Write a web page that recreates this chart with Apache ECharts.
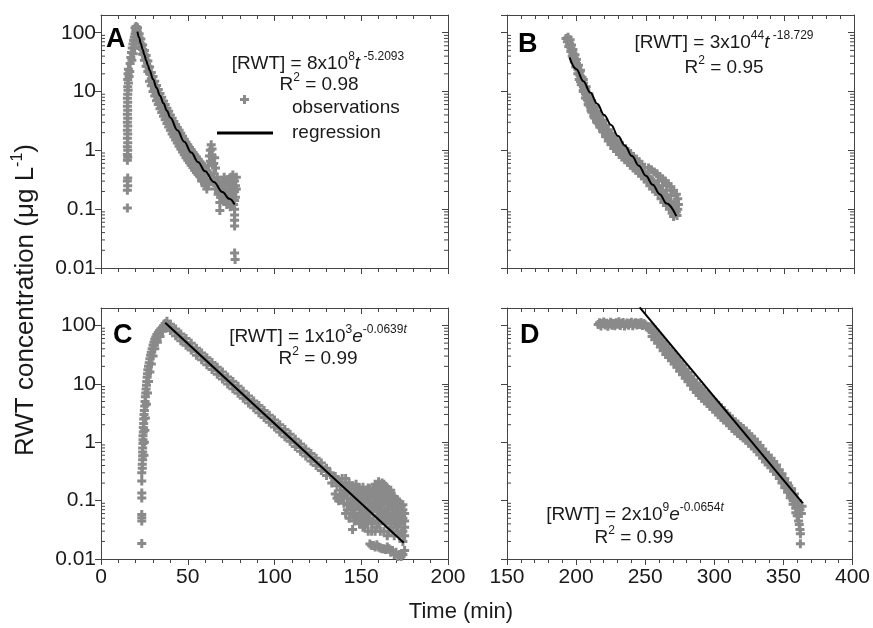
<!DOCTYPE html>
<html><head><meta charset="utf-8">
<script src="https://cdn.jsdelivr.net/npm/echarts@6/dist/echarts.min.js"></script>
<style>html,body{margin:0;padding:0;background:#fff}#c{width:873px;height:628px}</style>
</head><body><div id="c"></div>
<script>
// ---- tick labels ----
const yTickValues = [0.01, 0.1, 1, 10, 100];
const yTickLabels = ['0.01', '0.1', '1', '10', '100'];
const yMinorTicks = [0.02,0.03,0.04,0.05,0.06,0.07,0.08,0.09, 0.2,0.3,0.4,0.5,0.6,0.7,0.8,0.9,
  2,3,4,5,6,7,8,9, 20,30,40,50,60,70,80,90];
const xTicksLeft = [0, 50, 100, 150, 200];
const xTicksRight = [150, 200, 250, 300, 350, 400];

// ---- Panel A observations [time (min), RWT (ug/L)] ----
const obsA = [
[15.2,0.105],[15.2,0.21],[15.4,0.25],[15.2,0.3],[15.4,0.34],[15.2,0.68],[15.4,0.76],[15.2,0.85],[15.4,1.0],[15.2,1.15],
[15.4,1.35],[15.2,1.6],[15.4,1.9],[15.2,2.2],[15.4,2.6],[15.2,3.0],[15.4,3.5],[15.2,4.1],[15.4,4.8],[15.2,5.6],
[15.4,6.6],[15.2,7.7],[15.4,9],[15.6,10.5],[15.4,12],[15.8,14],[15.4,16],[16.2,18],[15.6,20],[16.6,22],[15.8,24],
[16.8,30],[17.2,38],[17.6,46],[18,55],[18.4,64],[18.8,74],[19.2,84],[19.6,94],[20,104],[20.4,114],[20.8,122],
[17.8,34],[18.6,44],[19.4,56],[20,68],[20.6,80],[21.2,92],[19.6,120],[20.2,128],
[21,120],[21,104],[21,88],[22,96],[22,82],[22,68],[23,78],[23,65],[23,54],[24,62],[24,52],[24,43],
[25,50],[25,42],[25,34],[26,41],[26,34],[26,27],[27,33],[27,27],[27,22],[28,26],[28,20],[28,15],
[29,21],[29,16.5],[29,12.5],[30,18],[30,13.5],[30,10],[31,15],[31,11.2],[31,8.4],[32,12.7],[32,9.4],[32,7],
[33,10.8],[33,8],[33,6],[34,9.3],[34,6.8],[34,5.1],[35,8],[35,5.9],[35,4.4],[36,6.9],[36,5.1],[36,3.8],
[37,6],[37,4.4],[37,3.3],[38,5.2],[38,3.8],[38,2.85],[39,4.6],[39,3.3],[39,2.5],[40,4],[40,2.9],[40,2.2],
[41,3.5],[41,2.55],[41,1.9],[42,3.1],[42,2.25],[42,1.7],[43,2.75],[43,2],[43,1.5],[44,2.45],[44,1.78],[44,1.33],
[45,2.2],[45,1.58],[45,1.18],[46,1.95],[46,1.4],[46,1.05],[47,1.73],[47,1.25],[47,0.94],[48,1.55],[48,1.12],[48,0.84],
[49,1.38],[49,1.0],[49,0.75],[50,1.24],[50,0.9],[50,0.68],[51,1.12],[51,0.82],[51,0.62],[52,1.02],[52,0.74],[52,0.56],
[53,0.92],[53,0.67],[53,0.51],[54,0.84],[54,0.61],[54,0.46],[55,0.77],[55,0.56],[55,0.42],[56,0.7],[56,0.51],[56,0.39],
[57,0.64],[57,0.47],[57,0.36],[58,0.59],[58,0.43],[58,0.33],[59,0.54],[59,0.4],[59,0.3],[60,0.5],[60,0.37],[60,0.28],
[61,0.45],[62,0.55],[62.5,0.8],[63,1.0],[63.5,1.25],[64,1.05],[64,0.8],[63,0.65],[65,0.6],[65.5,0.75],[66,0.5],
[61,0.3],[62,0.26],[63,0.38],[64,0.32],[65,0.28],[65,0.4],[66,0.22],[67,0.35],[67,0.26],[67.5,0.18],[68,0.3],[68,0.2],
[68.5,0.13],[68.5,0.095],[69,0.25],[69,0.16],[70,0.3],[70,0.2],[70.5,0.14],[71,0.35],[71,0.22],[71.5,0.15],[72,0.28],
[72,0.18],[72.5,0.12],[73,0.32],[73,0.21],[73.5,0.14],[74,0.26],[74,0.17],[74.5,0.11],[75,0.35],[75,0.22],[75.5,0.15],
[76,0.38],[76,0.27],[76,0.18],[76.5,0.12],[77,0.3],[77,0.2],[77,0.14],[77,0.1],[77,0.08],[77,0.065],[77,0.052],
[77.5,0.25],[77.5,0.16],[78,0.35],[78,0.22],[77,0.018],[77.3,0.014],[58,0.3],[59,0.35],[60,0.25],[61,0.22]
];

// ---- Panel B observations ----
const obsB = [
[192.5,80],[194,84],[195.5,76],[193.5,70],[195,66],[196.5,62],[194.5,58],[196,55],[197.5,52],[196,48],[197.5,45],[199,42],
[197,40],[198.5,37],[200,35],[198.5,32],[200,30],[201.5,28],[199.5,26],[201,24],[202.5,22],[201,20],[202.5,19],[204,17.5],
[202,16],[203.5,15],[205,14],[203.5,13],[205,12],[206.5,11],[205,10],[206.5,9.2],[208,8.5],[206.5,7.8],[208,7.2],[209.5,6.6],
[208.5,6],[210,5.5],[211.5,5.1],[210.5,4.8],[212,4.4],[213.5,4.1],[212.5,3.8],[214,3.5],[215.5,3.3],[214.5,3.1],[216,2.9],
[217.5,2.7],[217,2.5],[218.5,2.35],[220,2.2],[219.5,2.05],[221,1.9],[222.5,1.8],[222,1.68],[223.5,1.58],[225,1.48],[225,1.38],
[226.5,1.3],[228,1.22],[228,1.14],[229.5,1.07],[231,1.0],[231,0.95],[232.5,0.9],[234,0.85],[234.5,0.8],[236,0.76],[237.5,0.72],
[238,0.68],[239.5,0.64],[241,0.6],[241.5,0.57],[243,0.54],[244.5,0.51],[245,0.48],[246.5,0.45],[248,0.43],[248.5,0.4],[250,0.38],
[251.5,0.36],[252,0.34],[253.5,0.32],[255,0.3],[255.5,0.28],[257,0.26],[258.5,0.25],[259,0.23],[260.5,0.21],[262,0.2],[262.5,0.18],
[264,0.17],[265.5,0.16],[266,0.145],[267.5,0.13],[269,0.12],[269,0.11],[270.5,0.1],[272,0.09],[271,0.085],[272.5,0.078],[270,0.075],
[252,0.5],[254,0.47],[256,0.43],[258,0.4],[260,0.36],[262,0.33],[264,0.3],[266,0.27],[268,0.24],[270,0.21],[272,0.18],[273,0.15],
[273.5,0.12],[273,0.1],[271,0.13],[268,0.17],[265,0.21],[262,0.25],[259,0.3],
[203,23],[205,16],[207,12],[209,9.2],[211,7],[213,5.6],[215,4.6],[217,3.9],[219,3.25],[221,2.7],[223,2.25],[225,1.95],
[227,1.7],[229,1.5],[231,1.33],[233,1.2],[235,1.08],[237,0.96],[239,0.88],[241,0.79],[243,0.71],[245,0.64],[247,0.58],[249,0.51],
[203,14.8],[205,10.4],[207,7.8],[209,5.9],[211,4.5],[213,3.6],[215,2.95],[217,2.5],[219,2.1],[221,1.72],[223,1.44],[225,1.24],
[227,1.08],[229,0.96],[231,0.85],[233,0.77],[235,0.69],[237,0.62],[239,0.56],[241,0.5],[243,0.46],[245,0.41],[247,0.37],[249,0.33],
[251,0.29],[253,0.25],[255,0.22],[257,0.2],[259,0.18],[261,0.15],[263,0.13],[265,0.115],[267,0.1],[269,0.085]
];

// ---- Panel C observations ----
const obsC = [
[23.5,0.0185],[23.5,0.045],[23.5,0.051],[23.5,0.058],[23.5,0.111],[23.5,0.135],[23.5,0.218],
[23.5,0.3],[23.8,0.36],[23.8,0.42],[24,0.5],[24,0.58],[24,0.68],[24,0.8],[24.2,0.95],[24.2,1.1],[24.2,1.3],[24.4,1.5],
[24.4,1.8],[24.6,2.1],[24.6,2.5],[24.8,3],[25,3.5],[25.2,4.2],[25.4,5],[25.6,6],[25.8,7],[26,8.2],[26.2,9.5],[26.4,11],
[26.6,13],[26.8,15],[27,17.5],[27.4,20],[27.8,23],[28.2,27],[28.6,31],[29,35],[29.5,40],[30,46],[30.5,52],[31,58],
[31.6,64],[32.2,70],[33,76],[33.8,82],[34.6,88],[35.4,94],[36.2,100],[37,108],
[24.8,0.6],[25,1.0],[25.3,1.6],[25.6,2.6],[26.2,4.5],[26.8,7],[27.4,11],[28.2,16],[29,22],[30,30],[31,40],[32.5,52],
[34,65],[35.5,80],[36.5,92],[38,105],[38.5,98],
[38,118],[38,104],[38,92],[40,105],[40,93],[40,82],[43,87],[43,77],[43,67],[46,72],[46,63],[46,55],[49,60],[49,52],[49,46],
[52,50],[52,43],[52,38],[55,41],[55,36],[55,31],[58,34],[58,29.7],[58,26],[61,28],[61,24.6],[61,21.4],[64,23.4],[64,20.4],[64,17.7],
[67,19.3],[67,16.8],[67,14.6],[70,16],[70,13.9],[70,12.1],[73,13.2],[73,11.5],[73,10],[76,11],[76,9.55],[76,8.3],
[79,9.1],[79,7.9],[79,6.9],[82,7.5],[82,6.53],[82,5.7],[85,6.2],[85,5.4],[85,4.7],[88,5.1],[88,4.47],[88,3.9],
[91,4.25],[91,3.7],[91,3.2],[94,3.5],[94,3.06],[94,2.66],[97,2.9],[97,2.53],[97,2.2],[100,2.4],[100,2.1],[100,1.83],
[103,2.0],[103,1.73],[103,1.5],[106,1.65],[106,1.44],[106,1.25],[109,1.37],[109,1.19],[109,1.04],[112,1.13],[112,0.98],[112,0.85],
[115,0.93],[115,0.81],[115,0.7],[118,0.77],[118,0.67],[118,0.58],[121,0.64],[121,0.557],[121,0.48],[124,0.53],[124,0.46],[124,0.4],
[127,0.44],[127,0.381],[127,0.33],[130,0.36],[130,0.315],[130,0.27],
[132,0.3],[133,0.2],[134,0.25],[135,0.13],[135,0.26],[136,0.18],[137,0.1],[137,0.22],[138,0.15],[139,0.24],[139,0.12],[140,0.09],
[140,0.18],[141,0.24],[141,0.14],[142,0.07],[142,0.11],[143,0.05],[143,0.2],[143,0.16],[144,0.09],[144,0.13],[145,0.032],[145,0.18],
[146,0.06],[146,0.1],[146,0.14],[147,0.19],[147,0.08],[148,0.05],[148,0.12],[149,0.16],[149,0.07],[150,0.1],[150,0.045],[151,0.17],
[151,0.13],[152,0.037],[152,0.06],[152,0.09],[153,0.15],[153,0.11],[154,0.165],[154,0.05],[154,0.075],[155,0.018],[155,0.13],[155,0.095],
[156,0.04],[156,0.065],[157,0.017],[157,0.15],[157,0.11],[158,0.03],[158,0.08],[158,0.19],[159,0.055],[159,0.13],[160,0.21],[160,0.016],
[160,0.1],[160,0.04],[161,0.07],[161,0.16],[162,0.2],[162,0.05],[162,0.12],[163,0.015],[163,0.09],[163,0.03],[164,0.175],[164,0.065],
[164,0.14],[165,0.025],[165,0.045],[165,0.1],[166,0.015],[166,0.15],[166,0.075],[167,0.035],[167,0.12],[168,0.055],[168,0.014],[168,0.09],
[169,0.118],[169,0.04],[169,0.025],[170,0.07],[170,0.013],[170,0.1],[171,0.05],[171,0.03],[171,0.085],[172,0.012],[172,0.06],[172,0.04],
[173,0.028],[173,0.08],[173,0.011],[174,0.07],[174,0.05],[174,0.02],[175,0.035],[175,0.06],
[136,0.11],[138,0.2],[140,0.13],[141,0.06],[142,0.18],[143,0.085],[144,0.06],[145,0.11],[145,0.075],[146,0.045],[147,0.13],[147,0.055],
[148,0.09],[148,0.16],[149,0.04],[149,0.11],[150,0.14],[150,0.075],[151,0.055],[151,0.035],[152,0.12],[153,0.045],[153,0.07],[154,0.03],
[154,0.11],[155,0.06],[155,0.16],[156,0.08],[156,0.12],[156,0.03],[157,0.045],[157,0.075],[158,0.11],[158,0.16],[159,0.035],[159,0.09],
[159,0.18],[160,0.065],[160,0.14],[161,0.03],[161,0.11],[161,0.045],[162,0.085],[162,0.16],[163,0.06],[163,0.13],[163,0.19],[164,0.04],
[164,0.1],[165,0.13],[165,0.07],[165,0.16],[166,0.03],[166,0.055],[166,0.11],[167,0.08],[167,0.15],[167,0.045],[168,0.03],[168,0.12],
[168,0.07],[169,0.06],[169,0.09],[170,0.035],[170,0.05],[171,0.065],[171,0.04],[171,0.1],[172,0.025],[172,0.075],[172,0.095],[173,0.05],
[173,0.04],[174,0.03],[174,0.085],[175,0.045],[175,0.025],[156,0.017],[158,0.016],[159,0.0175],[161,0.0155],[162,0.015],[164,0.0145],
[165,0.016],[167,0.013],[169,0.012],[171,0.011],[174,0.012],[175,0.014]
];

// ---- Panel D observations ----
const obsD = [
[216,104],[217,112],[218,98],[219,108],[220,115],[221,102],[222,110],[223,97],[224,106],[225,114],[226,101],[227,109],
[228,99],[229,112],[230,105],[231,116],[232,100],[233,108],[234,113],[235,98],[236,106],[237,111],[238,101],[239,109],
[240,114],[241,99],[242,107],[243,112],[244,102],[245,110],[246,104],[247,113],[248,100],[249,108],[250,103],[251,97],[252,92],
[253,95],[253,85],[255,94],[255,78],[255,65],[257,83],[257,69],[257,57],[259,72],[259,60],[259,50],[261,62],[261,51.5],[261,43],
[263,54],[263,44.7],[263,37],[265,47],[265,38.9],[265,32],[267,41],[267,34.3],[267,28.5],[269,36],[269,30.2],[269,25],
[271,32],[271,26.6],[271,22],[273,28],[273,23.4],[273,19.4],[275,24],[275,19.9],[275,16.5],[277,21],[277,17.4],[277,14.4],
[279,18],[279,15.1],[279,12.5],[281,15.7],[281,13.1],[281,10.9],[283,13.7],[283,11.4],[283,9.5],[285,11.8],[285,9.8],[285,8.1],
[287,10.3],[287,8.6],[287,7.1],[289,9.2],[289,7.7],[289,6.4],[291,8.3],[291,6.9],[291,5.7],[293,7.4],[293,6.15],[293,5.1],
[295,6.6],[295,5.5],[295,4.6],[297,5.9],[297,4.95],[297,4.1],[299,5.3],[299,4.45],[299,3.7],[301,4.8],[301,3.98],[301,3.3],
[303,4.3],[303,3.58],[303,2.97],[305,3.9],[305,3.22],[305,2.67],[307,3.5],[307,2.89],[307,2.4],[309,3.1],[309,2.6],[309,2.16],
[311,2.8],[311,2.33],[311,1.93],[313,2.5],[313,2.09],[313,1.73],[315,2.25],[315,1.88],[315,1.56],[317,2.05],[317,1.71],[317,1.42],
[319,1.87],[319,1.56],[319,1.29],[321,1.72],[321,1.43],[321,1.19],[323,1.56],[323,1.3],[323,1.08],[325,1.39],[325,1.16],[325,0.96],
[327,1.25],[327,1.04],[327,0.86],[329,1.13],[329,0.94],[329,0.78],[331,1.0],[331,0.83],[331,0.69],[333,0.88],[333,0.73],[333,0.61],
[335,0.77],[335,0.64],[335,0.53],[337,0.67],[337,0.56],[337,0.46],[339,0.6],[339,0.5],[339,0.415],[341,0.53],[341,0.44],[341,0.365],
[343,0.47],[343,0.39],[343,0.32],[345,0.41],[345,0.34],[345,0.28],[347,0.34],[347,0.286],[347,0.24],[349,0.29],[349,0.242],[349,0.2],
[351,0.24],[351,0.2],[351,0.166],[353,0.2],[353,0.167],[353,0.139],[355,0.16],[355,0.135],[355,0.112],[357,0.126],[357,0.105],[357,0.087],
[359,0.09],[359,0.074],[359,0.062],[360,0.1],[360,0.055],[361,0.085],[361,0.045],[361.5,0.039],[362,0.07],[362,0.032],[362.3,0.027],
[362.3,0.0183],[363,0.06],[363.5,0.08],[358,0.13],[356,0.16]
];

// ---- regression curves ----
const regA = [[21,104],[22,82],[23,65],[24,52],[25,42],[26,34],[27,28],[28,23],[30,16.2],[32,11.6],[34,8.5],[36,6.3],[38,4.7],
  [40,3.6],[44,2.2],[48,1.4],[52,0.92],[56,0.63],[60,0.44],[65,0.29],[70,0.196],[74,0.15],[77,0.12]];
const regB = [[195,38],[200,24],[205,15],[210,9.6],[215,6.2],[220,4.0],[225,2.7],[230,1.75],[235,1.2],[240,0.8],[245,0.55],
  [250,0.37],[255,0.26],[260,0.18],[265,0.125],[272,0.076]];
const regC = [[37,112],[174.5,0.019]];
const regD = [[246,205],[364,0.091]];

const FONT = '"Liberation Sans", Arial, Helvetica, sans-serif';
const GRAY = '#8a8a8a';
const AX = '#444';
const TXT = '#1a1a1a';
const PLUS = 'path://M3,0H6V3H9V6H6V9H3V6H0V3H3Z';
const Y_MIN = 0.01, Y_MAX = 200;

const grids = [
  {left:101, top:15, width:347, height:253},
  {left:507, top:15, width:347, height:253},
  {left:101, top:308, width:347, height:251},
  {left:507, top:308, width:347, height:251}
];
const xRanges = [[0,200],[150,400],[0,200],[150,400]];
const xLabelSets = [xTicksLeft, xTicksRight, xTicksLeft, xTicksRight];
const xShow = [false,false,true,true];
const yShow = [true,false,true,false];
const obs = [obsA, obsB, obsC, obsD];
const reg = [regA, regB, regC, regD];

function yLabel(v){
  for (let i=0;i<yTickValues.length;i++) if (Math.abs(v-yTickValues[i]) <= yTickValues[i]*1e-6) return yTickLabels[i];
  return '';
}

// minor log ticks on the left and right frame edges, placed through the axis scale
function minorTickRenderer(params, api){
  const xl = api.value(0), xr = api.value(1), v = api.value(2);
  const pl = api.coord([xl, v]);
  const pr = api.coord([xr, v]);
  const st = {stroke:AX, lineWidth:1};
  return {type:'group', children:[
    {type:'line', shape:{x1:pl[0], y1:pl[1], x2:pl[0]+4, y2:pl[1]}, style:st},
    {type:'line', shape:{x1:pr[0]-4, y1:pr[1], x2:pr[0], y2:pr[1]}, style:st}
  ]};
}

const xAxis = [], yAxis = [], series = [];
grids.forEach((g, i) => {
  const [mn, mx] = xRanges[i];
  const labels = xLabelSets[i];
  const common = {type:'value', gridIndex:i, min:mn, max:mx, interval:50, splitLine:{show:false},
    axisLine:{show:true, onZero:false, lineStyle:{color:AX, width:1}}};
  xAxis.push(Object.assign({}, common, {position:'bottom',
    axisTick:{show:true, inside:false, length:6, lineStyle:{color:AX}},
    minorTick:{show:true, splitNumber:5, length:4, lineStyle:{color:AX}},
    axisLabel:{show:xShow[i], fontSize:21, color:TXT, fontFamily:FONT, margin:8,
      formatter: v => labels.indexOf(v) >= 0 ? String(v) : ''}}));
  xAxis.push(Object.assign({}, common, {position:'top',
    axisTick:{show:true, inside:true, length:6, lineStyle:{color:AX}},
    minorTick:{show:true, splitNumber:5, length:4, lineStyle:{color:AX}},
    axisLabel:{show:false}}));
  const ycommon = {type:'log', logBase:10, gridIndex:i, min:Y_MIN, max:Y_MAX, splitLine:{show:false},
    axisLine:{show:true, onZero:false, lineStyle:{color:AX, width:1}}};
  yAxis.push(Object.assign({}, ycommon, {position:'left',
    axisTick:{show:true, inside:false, length:6, lineStyle:{color:AX}},
    axisLabel:{show:yShow[i], fontSize:21, color:TXT, fontFamily:FONT, margin:5, formatter:yLabel, showMaxLabel:false}}));
  yAxis.push(Object.assign({}, ycommon, {position:'right',
    axisTick:{show:true, inside:true, length:6, lineStyle:{color:AX}},
    axisLabel:{show:false}}));
  series.push({type:'custom', name:'minor ticks', coordinateSystem:'cartesian2d', xAxisIndex:2*i, yAxisIndex:2*i,
    silent:true, clip:false, data: yMinorTicks.map(v => [mn, mx, v]),
    encode:{x:[0,1], y:2}, renderItem:minorTickRenderer, z:1});
  series.push({type:'scatter', name:'observations', xAxisIndex:2*i, yAxisIndex:2*i, data:obs[i],
    symbol:PLUS, symbolSize:9, itemStyle:{color:GRAY, opacity:1}, z:2});
  series.push({type:'line', name:'regression', xAxisIndex:2*i, yAxisIndex:2*i, data:reg[i],
    showSymbol:false, smooth: i < 2 ? 0.4 : false, smoothMonotone:'x',
    lineStyle:{color:'#000', width:2}, itemStyle:{color:'#000'}, z:3});
});

const SUP = {fontSize:12, fontFamily:FONT, fill:TXT, color:TXT, lineHeight:12, verticalAlign:'top'};
const N = {fontSize:19, fontFamily:FONT, fill:TXT, color:TXT, lineHeight:22, verticalAlign:'bottom'};
const I = Object.assign({}, N, {fontStyle:'italic'});
const SI = Object.assign({}, SUP, {fontStyle:'italic'});
const RICH = {n:N, s:SUP, i:I, si:SI};
function eq(x, y, text){ return {type:'text', x:x, y:y, z:10, style:{text:text, rich:RICH, align:'center', verticalAlign:'middle', fill:TXT}}; }
function letter(x, y, t){ return {type:'text', x:x, y:y, z:10, style:{text:t, font:'bold 27px ' + FONT, align:'left', verticalAlign:'middle', fill:'#000'}}; }

const graphic = [
  letter(106, 40, 'A'), letter(518, 45, 'B'), letter(113, 336, 'C'), letter(520, 336, 'D'),
  eq(318, 62, '{n|[RWT] = 8x10}{s|8}{i|t}{s| -5.2093}'),
  eq(319, 83, '{n|R}{s|2}{n| = 0.98}'),
  eq(724, 41, '{n|[RWT] = 3x10}{s|44}{i|t}{s| -18.729}'),
  eq(724, 66, '{n|R}{s|2}{n| = 0.95}'),
  eq(318, 335, '{n|[RWT] = 1x10}{s|3}{i|e}{s|-0.0639}{si|t}'),
  eq(318, 357, '{n|R}{s|2}{n| = 0.99}'),
  eq(635, 513, '{n|[RWT] = 2x10}{s|9}{i|e}{s|-0.0654}{si|t}'),
  eq(634, 536, '{n|R}{s|2}{n| = 0.99}'),
  {type:'text', x:24, y:300, rotation:Math.PI/2, z:10, style:{text:'{n|RWT concentration (μg L}{s|-1}{n|)}',
    align:'center', verticalAlign:'middle', fill:TXT,
    rich:{n:{fontSize:26, fontFamily:FONT, fill:TXT, lineHeight:29, verticalAlign:'bottom'},
          s:{fontSize:16, fontFamily:FONT, fill:TXT, lineHeight:16, verticalAlign:'top'}}}},
  {type:'text', x:461, y:612, z:10, style:{text:'Time (min)', font:'22px ' + FONT, align:'center', verticalAlign:'middle', fill:TXT}}
];

const chart = echarts.init(document.getElementById('c'), null, {renderer:'canvas'});
chart.setOption({
  backgroundColor:'#fff',
  animation:false,
  grid: grids,
  xAxis: xAxis,
  yAxis: yAxis,
  legend: [
    {data:[{name:'observations', icon:PLUS}], left:240, top:82, padding:0, itemWidth:9, itemHeight:9,
      selectedMode:false, itemStyle:{color:GRAY},
      formatter:'{t|{name}}',
      textStyle:{fontSize:19, fontFamily:FONT, color:TXT,
        rich:{t:{fontSize:19, fontFamily:FONT, color:TXT, lineHeight:20, padding:[16,0,0,38]}}}},
    {data:[{name:'regression', icon:'rect'}], left:217, top:123, padding:0, itemWidth:56, itemHeight:3,
      selectedMode:false, itemStyle:{color:'#000'},
      textStyle:{fontSize:19, fontFamily:FONT, color:TXT, lineHeight:20, padding:[0,0,0,14]}}
  ],
  series: series,
  graphic: graphic
});
</script>
</body></html>
